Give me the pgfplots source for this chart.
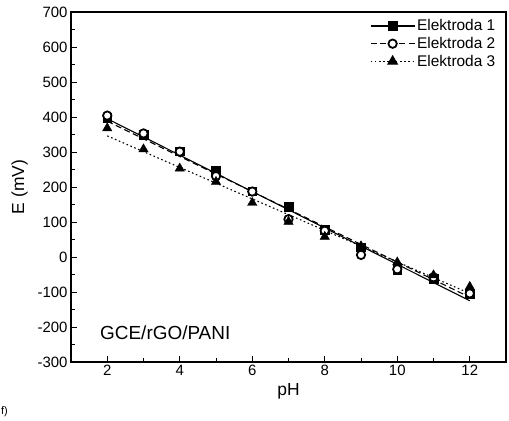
\documentclass[border=0pt]{standalone}
\usepackage{fontspec}
\setmainfont{Liberation Sans}
\usepackage{pgfplots}
\pgfplotsset{compat=1.18}

\begin{document}
\begin{tikzpicture}[x=1bp,y=1bp]
\useasboundingbox (0,0) rectangle (509,420);
\begin{axis}[
  at={(71bp,58bp)}, anchor=south west,
  width=435bp, height=350bp, scale only axis,
  xmin=1, xmax=13, ymin=-300, ymax=700,
  xtick={2,4,...,12}, minor xtick={1,3,...,13},
  ytick={-300,-200,...,700}, minor ytick={-250,-150,...,650},
  xtick pos=bottom, ytick pos=left, tick align=inside,
  major tick length=6bp, minor tick length=4bp,
  every tick/.style={black, line width=0.9pt},
  axis line style={line width=1.2pt},
  ticklabel style={font=\fontsize{15}{17}\selectfont},
  /pgf/number format/assume math mode=true,
  xlabel={pH}, ylabel={E (mV)},
  label style={font=\fontsize{17.5}{20}\selectfont},
  xlabel style={yshift=-1bp},
  ylabel style={yshift=3bp},
  legend style={draw=none, fill=none, at={(0.985,0.99)}, anchor=north east,
    font=\fontsize{15.5}{18}\selectfont, row sep=1bp, inner sep=2bp},
  legend cell align=left,
  legend image code/.code={
    \draw[#1, mark repeat=2, mark phase=2] plot coordinates {(0bp,0bp) (22bp,0bp) (44bp,0bp)};
  },
]
% fit lines
\addplot[black, line width=1.1pt, forget plot] coordinates {(2,395)(12,-125)};
\addplot[black, line width=1.1pt, dash pattern=on 6bp off 3.5bp, forget plot] coordinates {(2,388)(12,-115)};
\addplot[black, line width=1.1pt, dash pattern=on 1.6bp off 2.6bp, forget plot] coordinates {(2,346)(12,-104)};

\addlegendimage{black, line width=1.1pt, mark=square*, mark size=4.4bp, mark options={solid}}
\addlegendentry{Elektroda 1}
\addlegendimage{black, line width=1.1pt, dash pattern=on 6bp off 3.5bp, mark=*, mark size=4.2bp, mark options={solid, fill=white, draw=black, line width=1.8pt}}
\addlegendentry{Elektroda 2}
\addlegendimage{black, line width=1.1pt, dash pattern=on 1.6bp off 2.6bp, mark=triangle*, mark size=5.4bp, mark options={solid}}
\addlegendentry{Elektroda 3}

% data points
\addplot[only marks, mark=square*, mark size=4.4bp, black, forget plot]
  coordinates {(2,398)(3,350)(4,302)(5,246)(6,188)(7,144)(8,77)(9,28)(10,-36)(11,-62)(12,-105)};
\addplot[only marks, mark=*, mark size=4.2bp, mark options={fill=white, draw=black, line width=1.8pt}, forget plot]
  coordinates {(2,404)(3,353)(4,301)(5,231)(6,187)(7,108)(8,75)(9,6)(10,-35)(11,-58)(12,-104)};
\addplot[only marks, mark=triangle*, mark size=5.4bp, black, forget plot]
  coordinates {(2,368)(3,308)(4,253)(5,215)(6,155)(7,101)(8,58)(9,31)(10,-15)(11,-52)(12,-85)};

\node[font=\fontsize{19}{22}\selectfont] at (axis cs:3.6,-217) {GCE/rGO/PANI};
\end{axis}
\node[anchor=south west, font=\fontsize{11}{13}\selectfont, inner sep=0pt] at (1,3) {f)};
\end{tikzpicture}
\end{document}
